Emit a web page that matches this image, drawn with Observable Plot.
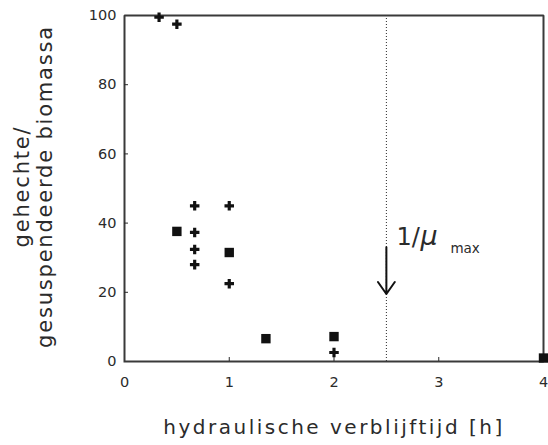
<!DOCTYPE html>
<html>
<head>
<meta charset="utf-8">
<script src="https://cdn.jsdelivr.net/npm/d3@7"></script>
<script src="https://cdn.jsdelivr.net/npm/@observablehq/plot@0.6"></script>
<style>
  html, body { margin: 0; padding: 0; background: #fff; }
  svg { display: block; }
</style>
</head>
<body>
<div id="chart"></div>
<script>
// Hydraulic residence time [h] vs attached/suspended biomass ratio
const plusX = [0.33, 0.5, 0.67, 0.67, 0.67, 0.67, 1, 1, 2];
const plusY = [99.5, 97.5, 45, 37.3, 32.4, 28, 45, 22.5, 2.6];
const squareX = [0.5, 1, 1.35, 2, 4];
const squareY = [37.6, 31.5, 6.6, 7.2, 1];

const xDomain = [0, 4];
const yDomain = [0, 100];
const xTicks = [0, 1, 2, 3, 4];
const yTicks = [0, 20, 40, 60, 80, 100];
const innerXTicks = [1, 2, 3];
const innerYTicks = [20, 40, 60, 80];

// 1/mu_max marker: dotted line and arrow
const muMaxX = 2.5;
const arrowTop = 33;
const arrowBottom = 19.5;

const xLabel = "hydraulische verblijftijd [h]";
const yLabel = "gehechte/\ngesuspendeerde biomassa";

const plusData = plusX.map((x, i) => ({x, y: plusY[i]}));
const squareData = squareX.map((x, i) => ({x, y: squareY[i]}));

// closed outline of the plotting area, from the scale domains
const [x0, x1] = xDomain, [y0, y1] = yDomain;
const frameOutline = [[x0, y0], [x1, y0], [x1, y1], [x0, y1], [x0, y0]];

const ink = "#2b2b2b";
const W = 548, H = 445;
const mL = 124, mR = 5, mT = 15, mB = 84;
const tickLen = 4;

const chart = Plot.plot({
  width: W, height: H,
  marginLeft: mL, marginRight: mR, marginTop: mT, marginBottom: mB,
  style: {fontFamily: "DejaVu Sans", color: ink, background: "#fff"},
  x: {domain: xDomain, axis: null},
  y: {domain: yDomain, axis: null},
  marks: [
    Plot.ruleX([muMaxX], {stroke: ink, strokeWidth: 1, strokeDasharray: "1,2"}),
    // frame
    Plot.line(frameOutline, {x: d => d[0], y: d => d[1], stroke: "#3a3a3a", strokeWidth: 2, strokeLinejoin: "miter", strokeLinecap: "square", strokeDasharray: "3000,1"}),
    // inward ticks: only the first few pixels of each tick line are drawn
    Plot.tickY(innerYTicks, {y: d => d, stroke: ink, strokeWidth: 1, strokeDasharray: `${tickLen},3000`}),
    Plot.tickX(innerXTicks, {x: d => d, stroke: ink, strokeWidth: 1, strokeDasharray: `0,${H - mT - mB - tickLen},${tickLen},3000`}),
    // tick labels
    Plot.axisY(yTicks, {anchor: "left", tickSize: 0, tickPadding: 8, fontSize: 14.5, fill: ink, label: null}),
    Plot.axisX(xTicks, {anchor: "bottom", tickSize: 0, tickPadding: 15, fontSize: 14.5, fill: ink, label: null}),
    // axis titles
    Plot.text([xLabel], {frameAnchor: "bottom", dy: 72, fontSize: 20, fill: ink}),
    Plot.text([yLabel], {frameAnchor: "left", textAnchor: "middle", dx: -91, dy: -2, rotate: -90, fontSize: 21, fill: ink, lineHeight: 1.1}),
    // data
    Plot.dot(squareData, {x: "x", y: "y", symbol: "square", r: 5.3, fill: "#111", stroke: "none"}),
    Plot.dot(plusData, {x: "x", y: "y", symbol: "cross", r: 4, fill: "#111", stroke: "none"}),
    // arrow + label
    Plot.arrow([{x: muMaxX, y1: arrowTop, y2: arrowBottom}], {x1: "x", x2: "x", y1: "y1", y2: "y2", stroke: "#111", strokeWidth: 2, headLength: 11, headAngle: 70}),
    Plot.text(["1/"], {x: [muMaxX], y: [arrowTop], dx: 10, dy: -2, lineAnchor: "bottom", textAnchor: "start", fontSize: 24, fill: ink}),
    Plot.text(["μ"], {x: [muMaxX], y: [arrowTop], dx: 34, dy: -2, lineAnchor: "bottom", textAnchor: "start", fontSize: 27, fontStyle: "italic", fill: ink}),
    Plot.text(["max"], {x: [muMaxX], y: [arrowTop], dx: 64, dy: 6, lineAnchor: "bottom", textAnchor: "start", fontSize: 13.5, fill: ink})
  ]
});

// wider tracking on the axis titles
d3.select(chart).selectAll("text").each(function () {
  const t = this.textContent;
  if (t === xLabel) d3.select(this).style("letter-spacing", "2.5px");
  else if (t.startsWith("gehechte/")) d3.select(this).style("letter-spacing", "1.8px");
});

document.getElementById("chart").append(chart);
</script>
</body>
</html>
